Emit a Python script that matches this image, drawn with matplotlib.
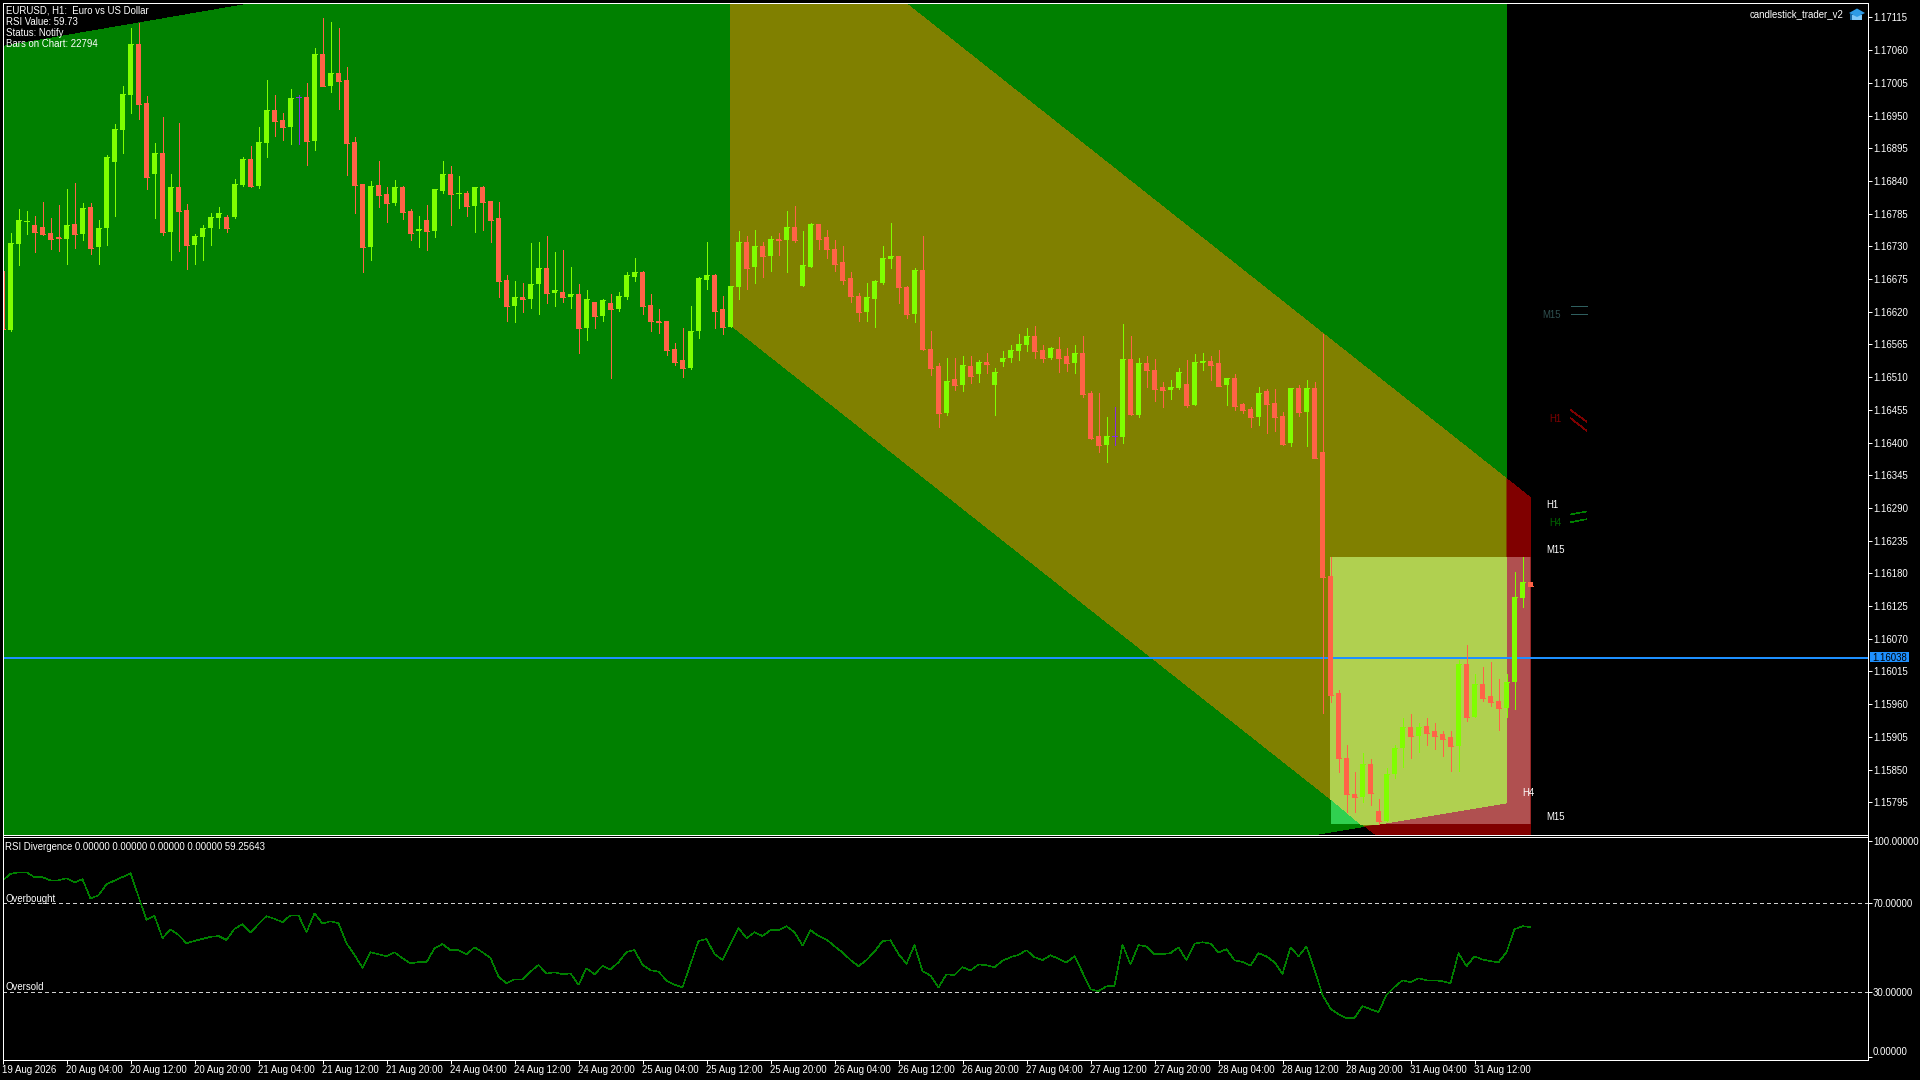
import matplotlib
matplotlib.use("Agg")
import numpy as np
import matplotlib.pyplot as plt
from matplotlib.patches import Polygon, Rectangle

plt.rcParams['font.family'] = ['Liberation Sans', 'DejaVu Sans']

# candles, prices in points (1 point = 0.00001)
opens = [116688,116589,116734,116771,116766,116762,116752,116745,116742,116767,
    116750,116796,116729,116760,116871,116925,116984,117070,116971,116851,
    116887,116754,116829,116791,116732,116745,116760,116777,116779,116779,
    116833,116877,116831,116903,116959,116942,116930,116981,116981,116907,
    117053,116999,117021,117009,116905,116834,116729,116833,116818,116803,
    116829,116789,116755,116774,116755,116823,116851,116818,116819,116797,
    116829,116807,116777,116673,116630,116644,116642,116666,116693,116651,
    116654,116644,116649,116593,116637,116612,116635,116625,116644,116678,
    116686,116632,116605,116604,116558,116538,116526,116587,116673,116681,
    116624,116595,116662,116738,116696,116731,116713,116743,116740,116763,
    116664,116696,116767,116745,116726,116703,116676,116647,116620,116642,
    116669,116708,116713,116662,116617,116691,116558,116528,116450,116506,
    116496,116528,116515,116535,116496,116535,116542,116554,116564,116580,
    116555,116542,116557,116545,116533,116550,116483,116411,116395,116411,
    116409,116540,116446,116533,116522,116493,116488,116491,116498,116463,
    116533,116537,116533,116496,116508,116464,116456,116443,116486,116466,
    116444,116399,116491,116451,116491,116384,116175,115978,115870,115808,
    115803,115860,115780,115763,115842,115887,115922,115906,115924,115914,
    115909,115904,115889,116027,115939,115993,115973,115965,115953,115997,116139,116165]
closes = [116591,116735,116774,116772,116754,116750,116742,116744,116766,116750,
    116794,116727,116760,116880,116927,116986,117070,116969,116846,116887,
    116754,116829,116789,116732,116747,116760,116779,116786,116760,116834,
    116877,116831,116905,116959,116940,116930,116979,116981,116907,117053,
    116999,117021,117008,116903,116833,116729,116831,116816,116803,116829,
    116787,116752,116759,116755,116826,116851,116818,116819,116797,116829,
    116805,116775,116671,116630,116644,116642,116667,116694,116651,116656,
    116644,116649,116593,116641,116612,116639,116625,116646,116681,116686,
    116630,116604,116602,116556,116536,116526,116587,116676,116681,116622,
    116595,116664,116738,116694,116730,116713,116743,116740,116763,116741,
    116698,116767,116743,116725,116701,116674,116646,116620,116644,116671,
    116710,116713,116662,116617,116691,116558,116526,116450,116504,116496,
    116530,116512,116535,116532,116518,116543,116555,116565,116580,116554,
    116542,116559,116543,116533,116550,116481,116407,116395,116411,116411,
    116540,116448,116533,116522,116490,116488,116493,116518,116463,116535,
    116537,116530,116495,116508,116461,116454,116443,116483,116464,116443,
    116397,116491,116451,116491,116374,116173,115976,115869,115808,115803,
    115860,115811,115763,115843,115887,115922,115906,115922,115912,115907,
    115902,115889,116027,115939,115993,115971,115963,115953,115998,116141,116165,116158]
highs = [116688,116752,116792,116789,116781,116804,116777,116799,116826,116836,
    116803,116803,116774,116883,116935,116999,117097,117105,116983,116903,
    116947,116851,116937,116801,116750,116766,116786,116796,116782,116843,
    116880,116898,116930,117009,116984,116954,116994,116984,117004,117063,
    117114,117107,117097,117031,116914,116834,116840,116873,116829,116841,
    116831,116792,116781,116799,116826,116873,116865,116848,116823,116829,
    116831,116807,116805,116681,116671,116669,116735,116738,116747,116720,
    116723,116696,116666,116656,116637,116641,116649,116654,116686,116710,
    116688,116649,116624,116605,116568,116592,116629,116678,116738,116684,
    116647,116664,116755,116747,116757,116738,116747,116752,116789,116797,
    116755,116770,116768,116757,116741,116730,116686,116651,116669,116674,
    116730,116770,116713,116664,116693,116747,116588,116533,116543,116543,
    116545,116545,116538,116550,116526,116554,116564,116582,116592,116596,
    116564,116560,116577,116559,116564,116580,116486,116483,116443,116459,
    116599,116580,116543,116545,116540,116501,116505,116526,116538,116549,
    116550,116545,116555,116508,116515,116466,116459,116493,116490,116490,
    116451,116491,116496,116505,116501,116582,116207,115983,115892,115845,
    115877,115867,115800,115852,115892,115936,115944,115929,115936,115929,
    115914,115914,116034,116060,116010,116022,116030,116002,116010,116183,116208,116166]
lows = [116591,116588,116698,116750,116721,116749,116725,116722,116700,116727,
    116740,116717,116700,116732,116781,116887,116954,116944,116826,116777,
    116749,116707,116722,116692,116700,116707,116732,116760,116754,116777,
    116831,116829,116828,116880,116915,116909,116902,116902,116866,116892,
    116999,116989,116961,116850,116786,116686,116707,116796,116771,116799,
    116776,116740,116729,116723,116745,116819,116766,116794,116781,116754,
    116758,116738,116644,116604,116602,116619,116627,116617,116635,116630,
    116637,116627,116551,116572,116593,116604,116509,116622,116641,116671,
    116617,116588,116585,116548,116531,116511,116524,116575,116659,116592,
    116583,116595,116642,116659,116669,116678,116689,116716,116686,116738,
    116664,116696,116725,116710,116688,116667,116637,116604,116605,116595,
    116666,116694,116634,116610,116602,116555,116514,116426,116447,116489,
    116486,116500,116501,116517,116446,116528,116535,116538,116554,116543,
    116535,116540,116518,116520,116517,116476,116406,116384,116367,116395,
    116399,116446,116443,116493,116469,116459,116473,116490,116459,116463,
    116522,116505,116495,116463,116454,116449,116426,116429,116416,116419,
    116395,116394,116444,116394,116374,115945,115963,115845,115778,115778,
    115796,115791,115758,115763,115835,115855,115870,115880,115892,115885,
    115872,115847,115847,115931,115939,115966,115956,115916,115938,115951,116123,116158]

rsi = [80.2,83.2,83.9,83.9,81.7,81.7,80.3,80.3,81.2,79.4,
    80.8,72.1,73.6,78.5,80.2,81.8,83.5,73.0,62.5,64.3,
    54.3,58.3,55.8,52.0,53.1,54.0,54.9,55.3,53.5,58.5,
    60.6,56.8,60.7,64.2,63.0,61.5,64.6,64.6,57.0,65.5,
    60.9,61.9,61.0,52.0,46.8,41.0,48.0,47.1,46.2,48.0,
    45.3,43.0,43.6,43.5,49.8,51.7,48.9,48.9,47.1,50.2,
    48.0,45.4,37.0,34.0,35.8,35.8,39.3,42.3,38.4,39.0,
    38.1,38.5,33.4,40.8,38.1,41.8,40.3,43.5,48.1,49.0,
    42.3,39.9,39.3,35.3,33.4,32.2,42.6,53.1,53.9,47.2,
    44.5,51.6,58.8,54.3,57.0,55.3,57.9,57.9,59.7,57.0,
    51.0,57.9,55.3,53.7,50.7,47.9,44.5,41.7,44.5,48.3,
    53.0,53.4,47.2,42.8,51.2,39.5,37.5,32.1,38.1,37.7,
    41.3,39.8,42.5,42.2,41.3,44.1,45.8,46.8,48.9,45.8,
    44.4,46.7,45.0,43.4,46.2,38.9,31.4,30.5,32.7,32.9,
    51.5,42.5,51.2,50.6,47.1,47.1,47.6,50.2,44.4,51.9,
    52.5,51.9,47.9,49.4,44.4,43.6,42.0,47.6,46.1,43.5,
    38.3,50.2,46.2,50.6,40.1,28.8,22.6,20.2,18.4,18.4,
    23.8,22.4,21.1,28.8,32.4,35.4,34.5,36.3,35.4,35.4,
    35.0,34.0,47.6,41.7,46.2,44.7,44.0,43.5,48.0,58.3,59.7,59.26]

price_ticks = [1.17115,1.17060,1.17005,1.16950,1.16895,1.16840,1.16785,1.16730,1.16675,
    1.16620,1.16565,1.16510,1.16455,1.16400,1.16345,1.16290,1.16235,1.16180,1.16125,
    1.16070,1.16015,1.15960,1.15905,1.15850,1.15795]
time_labels = ['19 Aug 2026','20 Aug 04:00','20 Aug 12:00','20 Aug 20:00','21 Aug 04:00',
    '21 Aug 12:00','21 Aug 20:00','24 Aug 04:00','24 Aug 12:00','24 Aug 20:00',
    '25 Aug 04:00','25 Aug 12:00','25 Aug 20:00','26 Aug 04:00','26 Aug 12:00',
    '26 Aug 20:00','27 Aug 04:00','27 Aug 12:00','27 Aug 20:00','28 Aug 04:00',
    '28 Aug 12:00','28 Aug 20:00','31 Aug 04:00','31 Aug 12:00']
last_price = 1.16038

# drawn objects: x in bars, y in points
green_bars = [0, 188, 188, 0]
green_prices = [117066, 117503, 115794, 115375]
red_bars = [91, 191, 191, 91]
red_prices = [117372, 116307, 115535, 116598]
rect_bars = [166, 191]
rect_prices = [116207, 115758]
# part of the rectangle that lies on both channels
overlap_bars = [166, 188, 188, 172, 169.8, 166]
overlap_prices = [116207, 116207, 115794, 115758, 115758, 115801]

mini_lines = [
    ([196, 198], [116629, 116629], '#2F5F5F'),
    ([196, 198], [116616, 116616], '#2F5F5F'),
    ([196, 198], [116455, 116435], '#800000'),
    ([196, 198], [116441, 116420], '#800000'),
    ([196, 198], [116279, 116284], '#008000'),
    ([196, 198], [116266, 116271], '#008000'),
]

W, H = 1920, 1080
PX = 0.72  # one pixel in points at dpi 100
FONT = 6.9
UP, DOWN, DOJI = '#7FFF00', '#FF6347', '#8A2BE2'


def fx(x):
    return x / W


def fy(y):
    return 1 - y / H


def label(x, y, s, color='white', **kw):
    fig.text(fx(x), fy(y), s, color=color, fontsize=FONT, va='center_baseline', **kw)


fig = plt.figure(figsize=(W / 100, H / 100), dpi=100, facecolor='black')
ax = fig.add_axes([fx(2.5), fy(834.5), fx(1865), (834.5 - 2.5) / H], facecolor='black')
ax2 = fig.add_axes([fx(2.5), fy(1059.5), fx(1865), (1059.5 - 836.5) / H], facecolor='black')

# zones
green = Polygon(np.c_[green_bars, np.array(green_prices) / 1e5], fc='#008000', ec='none', aa=False, zorder=1)
red = Polygon(np.c_[red_bars, np.array(red_prices) / 1e5], fc='#800000', ec='none', aa=False, zorder=1)
ax.add_patch(green)
ax.add_patch(red)
olive = Polygon(np.c_[red_bars, np.array(red_prices) / 1e5], fc='#808000', ec='none', aa=False, zorder=1.1)
ax.add_patch(olive)
olive.set_clip_path(green)

rect_xy = (rect_bars[0], rect_prices[1] / 1e5)
rect_w = rect_bars[1] - rect_bars[0]
rect_h = (rect_prices[0] - rect_prices[1]) / 1e5
r1 = Rectangle(rect_xy, rect_w, rect_h, fc='#30D050', ec='none', aa=False, zorder=1.2)
ax.add_patch(r1)
r1.set_clip_path(green)
r2 = Rectangle(rect_xy, rect_w, rect_h, fc='#B05050', ec='none', aa=False, zorder=1.3)
ax.add_patch(r2)
r2.set_clip_path(red)
ax.add_patch(Polygon(np.c_[overlap_bars, np.array(overlap_prices) / 1e5], fc='#B0D050', ec='none', aa=False, zorder=1.4))

# last price line
ax.axhline(last_price, color='#1E90FF', lw=2 * PX, antialiased=False, zorder=4)

# candles
x = np.arange(len(opens))
o = np.array(opens) / 1e5
c = np.array(closes) / 1e5
hi = np.array(highs) / 1e5
lo = np.array(lows) / 1e5
colors = [DOJI if a == b else (UP if b > a else DOWN) for a, b in zip(opens, closes)]
ax.vlines(x, lo, hi, colors=colors, lw=PX, antialiased=False, zorder=5)
ax.bar(x, np.abs(c - o), bottom=np.minimum(o, c), width=5 / 8, color=colors, antialiased=False, zorder=6)
ax.hlines(c, x - 2.5 / 8, x + 2.5 / 8, colors=colors, lw=PX, antialiased=False, zorder=6)

for xs, ys, col in mini_lines:
    ax.plot(xs, np.array(ys) / 1e5, color=col, lw=0.6 * PX, antialiased=False, zorder=3)

ax.set_xlim(0, 1865 / 8)
ax.set_ylim(1.157407, 1.171401)
ax.set_xticks([])
ax.yaxis.tick_right()
ax.set_yticks(price_ticks)
ax.set_yticklabels([f'{p:.5f}' for p in price_ticks])

# rsi panel
ax2.plot(np.arange(len(rsi)), rsi, color='#008000', lw=0.5 * PX, antialiased=False, zorder=3)
for level in (70, 30):
    ax2.axhline(level, color='#D0D0D0', lw=PX, linestyle=(0, (3, 3)), antialiased=False, zorder=2)
ax2.set_xlim(0, 1865 / 8)
ax2.set_ylim(-0.2, 100)
ax2.yaxis.tick_right()
# the terminal pulls the two end ticks inside the panel
ax2.set_yticks([1, 30, 70, 98])
ax2.set_yticklabels(['0.00000', '30.00000', '70.00000', '100.00000'])
ax2.get_yticklabels()[0].set_va('bottom')
ax2.set_xticks(np.arange(len(time_labels)) * 8)
ax2.set_xticklabels(time_labels, ha='left')

for a in (ax, ax2):
    for sp in a.spines.values():
        sp.set_color('white')
        sp.set_linewidth(PX)
        sp.set_zorder(10)
    a.tick_params(axis='both', colors='white', length=4 * PX, width=PX, labelsize=FONT, pad=1)

# info text
for yy, s in zip([9.7, 20.7, 31.7, 42.7],
                 ['EURUSD, H1:  Euro vs US Dollar', 'RSI Value: 59.73', 'Status: Notify', 'Bars on Chart: 22794']):
    label(6.5, yy, s)
label(5, 845.7, 'RSI Divergence 0.00000 0.00000 0.00000 0.00000 59.25643')
label(5, 897.7, 'Overbought')
label(5, 986, 'Oversold')
label(1844, 13.5, 'candlestick_trader_v2', ha='right')

# timeframe labels next to the channels
label(1546, 504, 'H1')
label(1549.3, 522, 'H4', color='#006400')
label(1546, 549, 'M15')
label(1522, 792, 'H4')
label(1546, 816, 'M15')
label(1542, 314, 'M15', color='#2F4F4F')
label(1549, 418, 'H1', color='#800000')

# last price box
fig.add_artist(Rectangle((fx(1870), fy(662)), fx(39), 10 / H, fc='#1E90FF', ec='none', transform=fig.transFigure))
label(1872, 657, '1.16038', color='black')

# graduation cap of the signal icon
fig.add_artist(Polygon([(fx(1852), fy(15)), (fx(1862), fy(15)), (fx(1862), fy(20)), (fx(1852), fy(20))],
                       fc='#7FC8F8', ec='none', transform=fig.transFigure))
fig.add_artist(Polygon([(fx(1849), fy(13)), (fx(1857), fy(8.5)), (fx(1865), fy(13)), (fx(1857), fy(17))],
                       fc='#2E9BE6', ec='none', transform=fig.transFigure))
fig.add_artist(Rectangle((fx(1850), fy(20)), fx(2), 6 / H, fc='#1464A0', ec='none', transform=fig.transFigure))

fig.savefig('out.png', dpi=100, facecolor='black')
